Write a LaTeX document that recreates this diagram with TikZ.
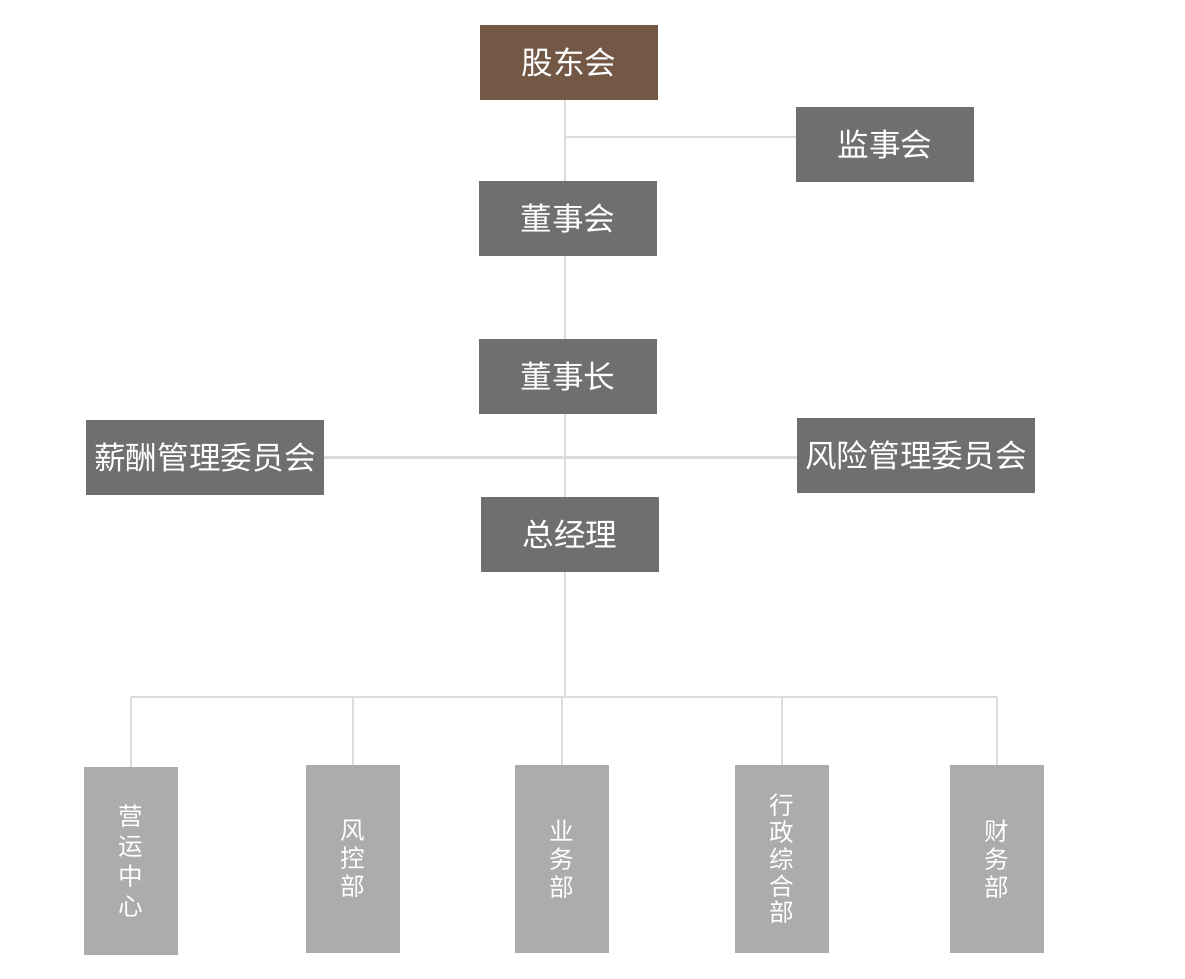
\documentclass[tikz,border=0pt]{standalone}
\usepackage{fontspec}
\usepackage{tikz}
\usetikzlibrary{positioning,calc}
\newfontfamily\cjk{Noto Sans CJK SC}
\definecolor{Board}{HTML}{735846}
\definecolor{Dark}{HTML}{6F6F6F}
\definecolor{Dept}{HTML}{ADACAC}
\definecolor{Wire}{HTML}{DCDCDC}

\begin{document}
\begin{tikzpicture}[x=0.02cm,y=-0.02cm,font=\cjk,every node/.style={align=center,inner sep=0pt},
  box/.style={fill=Dark,text=white,minimum width=3.56cm,minimum height=1.5cm,font=\cjk\fontsize{18}{22}\selectfont},
  wide/.style={box,minimum width=4.76cm},
  dept/.style={fill=Dept,text=white,minimum width=1.88cm,minimum height=3.76cm,font=\cjk\fontsize{14}{16}\selectfont},
  wire/.style={draw=Wire,line width=1.2pt}]
  \useasboundingbox (0,0) rectangle (1185,978);
  % board level
  \node[box,fill=Board] (gdh) at (569,62.5) {股东会};
  \node[box] (jsh) at (885,144.5) {监事会};
  \node[box] (dsh) at (568,218.5) {董事会};
  \node[box] (dsz) at (568,376.5) {董事长};
  \node[wide] (xc) at (205,457.5) {薪酬管理委员会};
  \node[wide] (fx) at (916,455.5) {风险管理委员会};
  \node[box] (zjl) at (570,534.5) {总经理};
  % departments
  \node[dept,font=\cjk\fontsize{14}{17}\selectfont] (yy) at (131,861) {营\\运\\中\\心};
  \node[dept] (fk) at (353,859) {风\\控\\部};
  \node[dept] (yw) at (562,859) {业\\务\\部};
  \node[dept,font=\cjk\fontsize{14}{15.2}\selectfont] (xz) at (782,859) {行\\政\\综\\合\\部};
  \node[dept] (cw) at (997,859) {财\\务\\部};
  \coordinate (js) at (565,137);
  \coordinate (bus) at (565,697);
  % connectors
  \draw[wire] (gdh.south -| js) -- (dsh.north -| js);
  \draw[wire] (js) -- (js -| jsh.west);
  \draw[wire] (dsh.south -| js) -- (dsz.north -| js);
  \draw[wire] (dsz.south -| js) -- (zjl.north -| js);
  \draw[wire] (xc.east) -- (xc.east -| fx.west);
  \draw[wire] (zjl.south -| bus) -- (bus);
  \draw[wire] (bus -| yy.north) -- (bus -| cw.north);
  \draw[wire] (bus -| yy.north) -- (yy.north);
  \draw[wire] (bus -| fk.north) -- (fk.north);
  \draw[wire] (bus -| yw.north) -- (yw.north);
  \draw[wire] (bus -| xz.north) -- (xz.north);
  \draw[wire] (bus -| cw.north) -- (cw.north);
\end{tikzpicture}
\end{document}
